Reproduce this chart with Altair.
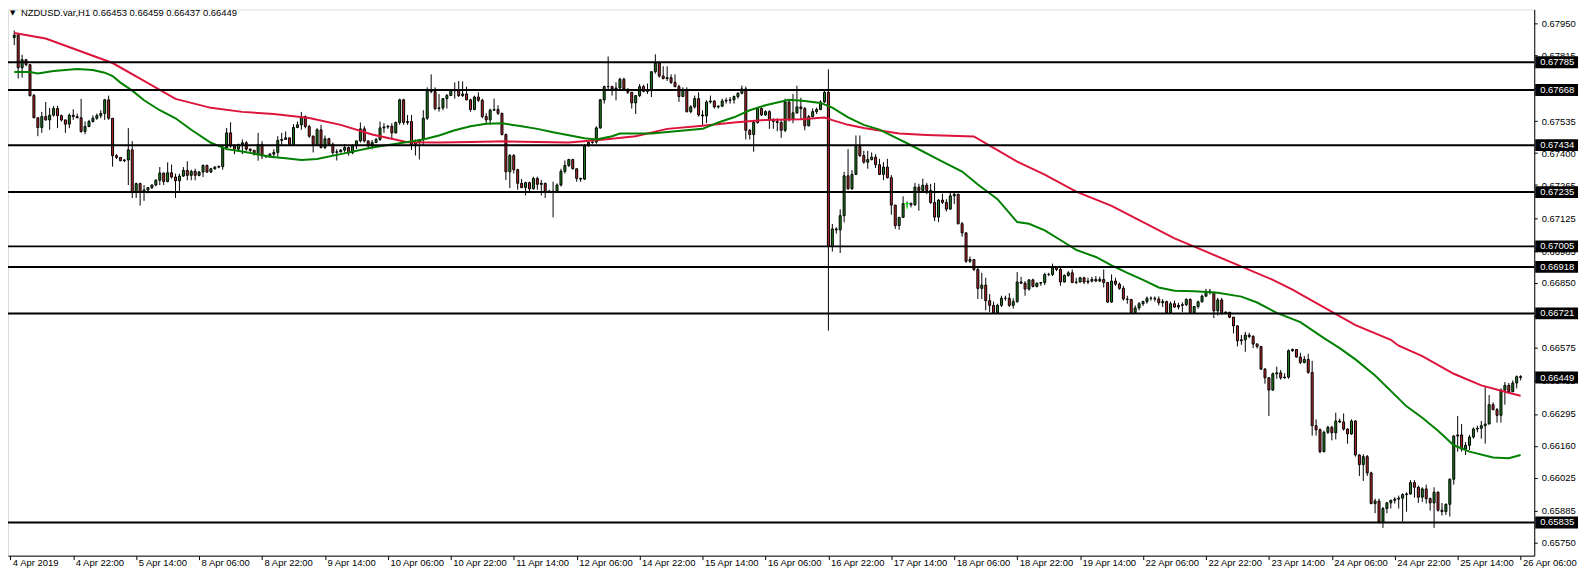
import altair as alt
import pandas as pd

SCALE = 100000.0

# ---------------- candle data (prices in 1e-5 units) ----------------
first_open = 67890
closes = [
    67900, 67762, 67796, 67775, 67644, 67550, 67509, 67555, 67541, 67561,
    67589, 67559, 67541, 67523, 67561, 67555, 67550, 67492, 67513, 67534,
    67548, 67559, 67568, 67626, 67548, 67389, 67382, 67368, 67371, 67414,
    67237, 67271, 67237, 67244, 67254, 67265, 67285, 67316, 67280, 67317,
    67299, 67283, 67303, 67327, 67306, 67323, 67306, 67320, 67348, 67320,
    67334, 67341, 67343, 67423, 67486, 67430, 67417, 67437, 67444, 67417,
    67412, 67396, 67437, 67389, 67385, 67396, 67403, 67454, 67458, 67465,
    67437, 67509, 67520, 67555, 67513, 67472, 67437, 67499, 67424, 67461,
    67438, 67403, 67406, 67413, 67424, 67401, 67431, 67452, 67503, 67452,
    67431, 67445, 67458, 67507, 67511, 67514, 67486, 67530, 67626, 67530,
    67534, 67438, 67445, 67458, 67548, 67669, 67661, 67589, 67592, 67631,
    67644, 67665, 67665, 67644, 67651, 67626, 67585, 67638, 67624, 67555,
    67541, 67582, 67585, 67569, 67479, 67321, 67390, 67330, 67272, 67254,
    67275, 67249, 67293, 67268, 67272, 67238, 67238, 67238, 67265, 67323,
    67348, 67373, 67334, 67293, 67290, 67431, 67445, 67447, 67507, 67626,
    67682, 67682, 67672, 67676, 67713, 67672, 67658, 67613, 67644, 67682,
    67662, 67665, 67745, 67782, 67727, 67716, 67720, 67700, 67682, 67640,
    67665, 67576, 67596, 67631, 67562, 67558, 67617, 67621, 67596, 67599,
    67621, 67624, 67626, 67640, 67654, 67672, 67497, 67479, 67530, 67589,
    67562, 67576, 67541, 67534, 67530, 67497, 67617, 67544, 67571, 67596,
    67589, 67516, 67555, 67576, 67585, 67617, 67658, 67004, 67079, 67075,
    67135, 67304, 67249, 67310, 67428, 67390, 67362, 67373, 67383, 67351,
    67310, 67341, 67296, 67180, 67093, 67128, 67186, 67187, 67181, 67256,
    67242, 67264, 67242, 67191, 67129, 67201, 67191, 67163, 67219, 67226,
    67101, 67062, 66942, 66949, 66907, 66827, 66841, 66775, 66755, 66724,
    66755, 66785, 66785, 66755, 66771, 66854, 66849, 66824, 66863, 66835,
    66849, 66852, 66886, 66886, 66918, 66907, 66854, 66882, 66893, 66852,
    66854, 66872, 66854, 66858, 66865, 66858, 66865, 66852, 66769, 66858,
    66845, 66827, 66782, 66780, 66724, 66744, 66762, 66771, 66785, 66785,
    66782, 66766, 66771, 66724, 66762, 66748, 66755, 66758, 66780, 66724,
    66750, 66770, 66794, 66815, 66811, 66732, 66778, 66721, 66726, 66705,
    66668, 66605, 66609, 66629, 66623, 66591, 66581, 66485, 66448, 66396,
    66465, 66469, 66448, 66451, 66563, 66568, 66536, 66513, 66526, 66471,
    66245, 66228, 66135, 66217, 66238, 66215, 66265, 66261, 66231, 66210,
    66265, 66121, 66080, 66114, 66045, 65915, 65926, 65835, 65894, 65918,
    65929, 65934, 65938, 65953, 65956, 66004, 65984, 65942, 65977, 65936,
    65918, 65963, 65887, 65881, 65912, 66018, 66201, 66206, 66146, 66162,
    66197, 66231, 66234, 66245, 66252, 66334, 66313, 66289, 66396, 66416,
    66389, 66426, 66453, 66449,
]
highs = [
    67920, 67905, 67817, 67799, 67775, 67651, 67548, 67575, 67617, 67592,
    67600, 67600, 67564, 67541, 67568, 67586, 67568, 67630, 67534, 67541,
    67560, 67568, 67582, 67630, 67644, 67548, 67396, 67382, 67375, 67506,
    67451, 67275, 67275, 67265, 67256, 67268, 67290, 67341, 67316, 67361,
    67352, 67313, 67313, 67341, 67366, 67330, 67334, 67325, 67352, 67352,
    67338, 67345, 67348, 67430, 67506, 67531, 67437, 67440, 67458, 67451,
    67420, 67414, 67486, 67451, 67393, 67400, 67417, 67472, 67486, 67492,
    67465, 67523, 67534, 67575, 67560, 67520, 67475, 67506, 67520, 67475,
    67465, 67445, 67417, 67417, 67438, 67428, 67438, 67452, 67530, 67514,
    67452, 67456, 67465, 67534, 67527, 67520, 67527, 67534, 67631, 67631,
    67562, 67562, 67458, 67460, 67582, 67679, 67734, 67679, 67651, 67631,
    67651, 67668, 67700, 67706, 67704, 67682, 67631, 67644, 67658, 67631,
    67569, 67589, 67631, 67603, 67571, 67483, 67396, 67396, 67334, 67290,
    67279, 67279, 67300, 67300, 67286, 67275, 67245, 67279, 67272, 67334,
    67369, 67376, 67376, 67334, 67296, 67438, 67450, 67458, 67514, 67630,
    67686, 67810, 67686, 67700, 67720, 67720, 67672, 67658, 67644, 67693,
    67690, 67695, 67748, 67819, 67782, 67768, 67768, 67734, 67734, 67690,
    67679, 67679, 67603, 67644, 67658, 67582, 67624, 67644, 67624, 67603,
    67631, 67635, 67638, 67644, 67658, 67686, 67682, 67503, 67541, 67593,
    67593, 67582, 67582, 67548, 67548, 67541, 67631, 67626, 67651, 67686,
    67635, 67596, 67562, 67590, 67593, 67624, 67665, 67755, 67100, 67086,
    67162, 67321, 67417, 67328, 67475, 67475, 67410, 67410, 67403, 67396,
    67376, 67362, 67376, 67307, 67180, 67130, 67217, 67195, 67191, 67274,
    67270, 67292, 67274, 67270, 67274, 67205, 67228, 67205, 67232, 67232,
    67228, 67108, 67066, 66962, 66937, 66914, 66893, 66872, 66803, 66771,
    66762, 66796, 66796, 66807, 66785, 66896, 66876, 66858, 66865, 66868,
    66852, 66854, 66893, 66893, 66932, 66921, 66914, 66886, 66900, 66907,
    66872, 66876, 66876, 66872, 66876, 66879, 66876, 66907, 66852, 66886,
    66872, 66852, 66838, 66796, 66782, 66755, 66769, 66775, 66793, 66793,
    66793, 66793, 66782, 66775, 66771, 66775, 66766, 66768, 66785, 66785,
    66752, 66775, 66801, 66825, 66825, 66811, 66787, 66787, 66730, 66726,
    66705, 66671, 66629, 66643, 66639, 66629, 66595, 66581, 66489, 66451,
    66471, 66495, 66481, 66467, 66568, 66572, 66568, 66554, 66540, 66550,
    66520, 66272, 66234, 66224, 66245, 66245, 66300, 66275, 66297, 66234,
    66272, 66269, 66124, 66124, 66121, 66050, 65936, 65936, 65901, 65922,
    65931, 65942, 65949, 65959, 65963, 66014, 66014, 65991, 65984, 65995,
    65940, 65984, 65967, 65918, 65915, 66022, 66206, 66286, 66252, 66176,
    66206, 66238, 66245, 66265, 66410, 66375, 66344, 66320, 66403, 66430,
    66426, 66437, 66458, 66459,
]
lows = [
    67858, 67716, 67720, 67768, 67640, 67548, 67472, 67486, 67538, 67499,
    67555, 67506, 67534, 67486, 67506, 67541, 67548, 67486, 67480, 67510,
    67530, 67541, 67548, 67541, 67541, 67343, 67375, 67366, 67362, 67265,
    67210, 67210, 67178, 67198, 67230, 67248, 67260, 67265, 67265, 67276,
    67292, 67210, 67237, 67299, 67285, 67285, 67285, 67302, 67299, 67316,
    67316, 67330, 67336, 67330, 67417, 67423, 67396, 67410, 67396, 67410,
    67405, 67390, 67368, 67375, 67380, 67380, 67385, 67385, 67430, 67458,
    67430, 67430, 67506, 67499, 67505, 67465, 67403, 67430, 67420, 67417,
    67431, 67390, 67369, 67403, 67403, 67390, 67396, 67417, 67445, 67445,
    67417, 67417, 67445, 67452, 67486, 67503, 67458, 67483, 67520, 67520,
    67520, 67414, 67390, 67373, 67431, 67541, 67654, 67582, 67576, 67582,
    67589, 67644, 67631, 67638, 67638, 67624, 67576, 67582, 67617, 67548,
    67520, 67520, 67582, 67562, 67475, 67286, 67252, 67314, 67245, 67252,
    67221, 67231, 67245, 67245, 67221, 67210, 67231, 67128, 67231, 67259,
    67314, 67341, 67330, 67279, 67279, 67286, 67428, 67440, 67440, 67503,
    67610, 67665, 67644, 67624, 67665, 67665, 67651, 67589, 67566, 67638,
    67658, 67651, 67638, 67737, 67720, 67713, 67706, 67693, 67679, 67617,
    67638, 67572, 67569, 67589, 67555, 67516, 67527, 67610, 67589, 67589,
    67596, 67610, 67610, 67610, 67631, 67649, 67458, 67458, 67406, 67525,
    67558, 67558, 67503, 67503, 67493, 67465, 67489, 67534, 67527, 67566,
    67541, 67497, 67514, 67552, 67566, 67582, 67613, 66648, 66983, 67059,
    66977, 67107, 67245, 67245, 67307, 67383, 67355, 67334, 67369, 67337,
    67307, 67286, 67293, 67139, 67079, 67075, 67125, 67170, 67170, 67177,
    67156, 67239, 67226, 67184, 67112, 67108, 67184, 67153, 67160, 67184,
    67098, 67046, 66935, 66935, 66900, 66782, 66782, 66734, 66727, 66720,
    66720, 66748, 66775, 66748, 66741, 66766, 66845, 66796, 66817, 66831,
    66831, 66838, 66841, 66879, 66879, 66900, 66838, 66852, 66876, 66849,
    66845, 66852, 66845, 66845, 66852, 66855, 66854, 66831, 66766, 66766,
    66838, 66821, 66775, 66762, 66720, 66720, 66734, 66752, 66762, 66775,
    66771, 66755, 66748, 66720, 66720, 66744, 66738, 66727, 66752, 66720,
    66720, 66741, 66767, 66792, 66801, 66701, 66712, 66715, 66718, 66701,
    66636, 66581, 66588, 66558, 66616, 66574, 66572, 66481, 66423, 66286,
    66393, 66444, 66440, 66444, 66444, 66558, 66533, 66506, 66509, 66465,
    66203, 66203, 66128, 66132, 66210, 66183, 66187, 66256, 66224, 66169,
    66206, 66114, 66032, 66011, 66032, 65912, 65874, 65830, 65812, 65874,
    65894, 65915, 65894, 65839, 65881, 65953, 65940, 65918, 65922, 65915,
    65885, 65812, 65881, 65864, 65867, 65860, 65995, 66135, 66135, 66121,
    66142, 66190, 66217, 66190, 66169, 66252, 66310, 66258, 66258, 66334,
    66382, 66389, 66403, 66437,
]

# ---------------- moving averages (read at sample bars) ----------------
red_ma_bar = [0, 8, 16, 25, 33, 41, 50, 58, 66, 75,
              83, 91, 100, 108, 116, 125, 133, 141, 150, 158,
              166, 175, 183, 191, 200, 206, 208, 212, 216, 225,
              232, 244, 255, 262, 270, 279, 287, 295, 302, 320,
              325, 333, 341, 350, 352, 358, 366, 373, 380, 383]
red_ma_val = [67909, 67886, 67837, 67782, 67706, 67630, 67592, 67575, 67566, 67549,
              67520, 67479, 67446, 67445, 67447, 67450, 67447, 67445, 67458, 67472,
              67503, 67516, 67530, 67541, 67544, 67551, 67540, 67520, 67507, 67483,
              67477, 67471, 67364, 67309, 67237, 67177, 67108, 67039, 66990, 66863,
              66822, 66746, 66671, 66609, 66584, 66540, 66465, 66416, 66385, 66372]

green_ma_bar = [0, 4, 6, 10, 16, 20, 23, 25, 27, 30,
                33, 37, 41, 45, 50, 54, 58, 65, 69, 73,
                77, 83, 91, 100, 104, 108, 112, 116, 120, 124,
                129, 133, 137, 141, 145, 148, 152, 154, 162, 175,
                179, 183, 187, 191, 197, 201, 205, 208, 212, 216,
                220, 225, 227, 236, 241, 245, 250, 255, 258, 262,
                266, 270, 275, 279, 283, 287, 291, 295, 300, 306,
                312, 316, 321, 327, 333, 337, 341, 346, 354, 358,
                362, 366, 370, 376, 380, 383]
green_ma_val = [67744, 67744, 67738, 67748, 67757, 67752, 67741, 67727, 67699, 67665,
                67624, 67582, 67548, 67499, 67444, 67417, 67407, 67385, 67378, 67371,
                67375, 67396, 67424, 67447, 67458, 67475, 67497, 67514, 67525, 67527,
                67514, 67503, 67489, 67476, 67463, 67458, 67472, 67483, 67483, 67503,
                67530, 67552, 67582, 67603, 67626, 67621, 67613, 67593, 67552, 67520,
                67500, 67458, 67442, 67364, 67322, 67267, 67205, 67108, 67101, 67073,
                67032, 66990, 66960, 66924, 66893, 66863, 66831, 66817, 66815, 66808,
                66792, 66767, 66723, 66684, 66616, 66574, 66526, 66458, 66327, 66279,
                66224, 66162, 66135, 66110, 66107, 66121]

# ---------------- horizontal levels, labels ----------------
level_values = [67785, 67668, 67434, 67235, 67005, 66918, 66721, 65835]
current_price = 66449
marker_bar = [227]
marker_price = [67175]

price_ticks = [67950, 67815, 67675, 67535, 67400, 67265, 67125, 66985, 66850,
               66710, 66575, 66435, 66295, 66160, 66025, 65885, 65750]

time_tick_bars = [-1, 15, 31, 47, 63, 79, 95, 111, 127, 143, 159, 175, 191,
                  207, 223, 239, 255, 271, 287, 303, 319, 335, 351, 367, 383]
time_tick_labels = ["4 Apr 2019", "4 Apr 22:00", "5 Apr 14:00", "8 Apr 06:00",
                    "8 Apr 22:00", "9 Apr 14:00", "10 Apr 06:00", "10 Apr 22:00",
                    "11 Apr 14:00", "12 Apr 06:00", "14 Apr 22:00", "15 Apr 14:00",
                    "16 Apr 06:00", "16 Apr 22:00", "17 Apr 14:00", "18 Apr 06:00",
                    "18 Apr 22:00", "19 Apr 14:00", "22 Apr 06:00", "22 Apr 22:00",
                    "23 Apr 14:00", "24 Apr 06:00", "24 Apr 22:00", "25 Apr 14:00",
                    "26 Apr 06:00"]

header_symbol = "NZDUSD.var,H1"
header_ohlc = ["0.66453", "0.66459", "0.66437", "0.66449"]

# ---------------- build tables ----------------
n = min(len(closes), len(highs), len(lows))
opens = [first_open] + closes[:n - 1]
rows = []
for i in range(n):
    o, c = opens[i], closes[i]
    h = max(highs[i], o, c)
    l = min(lows[i], o, c)
    rows.append({"bar": i, "open": o / SCALE, "close": c / SCALE,
                 "high": h / SCALE, "low": l / SCALE,
                 "dir": "up" if c >= o else "down"})
candles = pd.DataFrame(rows)

red_df = pd.DataFrame({"bar": red_ma_bar, "value": [v / SCALE for v in red_ma_val]})
green_df = pd.DataFrame({"bar": green_ma_bar, "value": [v / SCALE for v in green_ma_val]})
levels_df = pd.DataFrame({"price": [v / SCALE for v in level_values]})
box_vals = level_values + [current_price]
box_df = pd.DataFrame({"price": [v / SCALE for v in box_vals],
                       "label": [f"{v / SCALE:.5f}" for v in box_vals]})
marker_df = pd.DataFrame({"bar": marker_bar, "price": [v / SCALE for v in marker_price]})

# ---------------- styling ----------------
W, H = 1534, 549
FONT = "Liberation Sans"
FS = 9.5
GREEN = "#1A801A"
RED = "#B82828"
MA_RED = "#DC143C"
MA_GREEN = "#008000"

label_expr = " : ".join(f"datum.value == {b} ? '{t}'" for b, t in zip(time_tick_bars, time_tick_labels)) + " : ''"

x_scale = alt.Scale(domain=[-0.325, 385.2], nice=False, zero=False)
y_scale = alt.Scale(domain=[0.657154, 0.679881], nice=False, zero=False)

x_axis = alt.Axis(values=time_tick_bars, labelExpr=label_expr, title=None, grid=False,
                  domainColor="black", tickColor="black", tickSize=4, domainWidth=1,
                  labelAlign="left", labelBaseline="middle", labelPadding=3, labelOffset=2,
                  labelFont=FONT, labelFontSize=FS, labelColor="black",
                  labelFlush=False, labelOverlap=False, labelBound=False)
y_axis = alt.Axis(orient="right", values=[v / SCALE for v in price_ticks], format=".5f",
                  title=None, grid=False, domainColor="black", tickColor="black",
                  tickSize=3, domainWidth=1, labelPadding=4, labelAlign="left",
                  labelBaseline="middle",
                  labelFont=FONT, labelFontSize=FS, labelColor="black",
                  labelFlush=False, labelOverlap=False, labelBound=False)

X = lambda f: alt.X(f, scale=x_scale, axis=x_axis)
Y = lambda f: alt.Y(f, scale=y_scale, axis=y_axis)

wicks = alt.Chart(candles).mark_rule(color="black", strokeWidth=1).encode(
    x=X("bar:Q"), y=Y("low:Q"), y2="high:Q")

bodies = alt.Chart(candles).mark_bar(size=2, stroke="black", strokeWidth=1).encode(
    x=X("bar:Q"), y=Y("open:Q"), y2="close:Q",
    fill=alt.Fill("dir:N", scale=alt.Scale(domain=["up", "down"], range=[GREEN, RED]),
                  legend=None))

red_line = alt.Chart(red_df).mark_line(color=MA_RED, strokeWidth=2).encode(
    x=X("bar:Q"), y=Y("value:Q"))
green_line = alt.Chart(green_df).mark_line(color=MA_GREEN, strokeWidth=2).encode(
    x=X("bar:Q"), y=Y("value:Q"))

level_rules = alt.Chart(levels_df).mark_rule(color="black", strokeWidth=2).encode(
    y=Y("price:Q"))

marker = alt.Chart(marker_df).mark_text(text="T", color="#00FF00", fontSize=10,
                                        font=FONT, baseline="middle").encode(
    x=X("bar:Q"), y=Y("price:Q"))

boxes = alt.Chart(box_df).mark_bar(orient="horizontal", size=12, color="black",
                                   clip=False).encode(
    x=alt.value(W + 1), x2=alt.value(W + 44), y=Y("price:Q"))
box_text = alt.Chart(box_df).mark_text(align="left", baseline="middle", color="white",
                                       font=FONT, fontSize=FS, clip=False).encode(
    x=alt.value(W + 6), y=Y("price:Q"), text="label:N")

header_df = pd.DataFrame({"t": [header_symbol + "  " + " ".join(header_ohlc)]})
header = alt.Chart(header_df).mark_text(align="left", baseline="middle", color="black",
                                        font=FONT, fontSize=FS).encode(
    x=alt.value(13), y=alt.value(4), text="t:N")
tri = alt.Chart(pd.DataFrame({"t": ["\u25BC"]})).mark_text(
    align="left", baseline="middle", color="black", font="DejaVu Sans", fontSize=7).encode(
    x=alt.value(2), y=alt.value(4), text="t:N")

chart = alt.layer(
    wicks, bodies, red_line, green_line, level_rules, marker, boxes, box_text, header, tri
).properties(
    width=W, height=H,
    padding={"left": 0, "top": 0, "right": 48, "bottom": 13},
    autosize=alt.AutoSizeParams(type="none"),
).configure_view(stroke=None).configure(background="white")

chart.save("out.html", embed_options={"renderer": "svg", "actions": False})
